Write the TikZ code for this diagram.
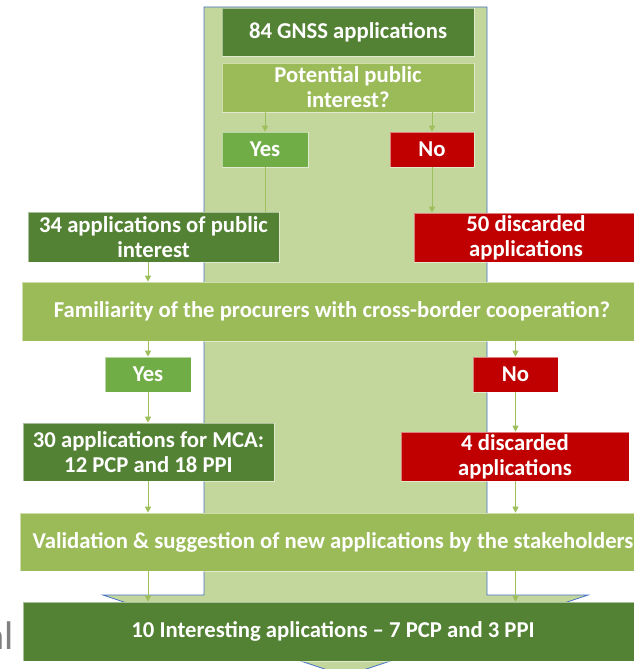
\documentclass[tikz,border=0pt]{standalone}
\usepackage{fontspec}
\setmainfont{Carlito}
\usetikzlibrary{arrows.meta}
\definecolor{dkgreen}{HTML}{548235}
\definecolor{olive}{HTML}{9BBB59}
\definecolor{yesgreen}{HTML}{70AD47}
\definecolor{nored}{HTML}{C00000}
\definecolor{arrowfill}{HTML}{C3D69B}
\definecolor{arrowline}{HTML}{4472C4}
\definecolor{conn}{HTML}{9DBF5C}
\begin{document}
\begin{tikzpicture}[x=1pt,y=-1pt,
  box/.style={rectangle, inner sep=0pt, draw=white, draw opacity=0.5, line width=0.6pt,
    text=white, align=center, font=\fontsize{22.7}{25}\selectfont\bfseries},
  darkbox/.style={box, fill=dkgreen},
  qbox/.style={box, fill=olive},
  yesbox/.style={box, fill=yesgreen},
  nobox/.style={box, fill=nored},
  link/.style={draw=conn, line width=0.9pt, -{Triangle[width=6pt,length=6pt]}},
  plainlink/.style={draw=conn, line width=0.9pt}]
\clip (0,0) rectangle (634,669);
% big background arrow
\draw[fill=arrowfill, draw=arrowline, line width=0.8pt]
  (204,7) -- (487,7) -- (487,595) -- (588,595) -- (345.5,676) -- (103,595) -- (204,595) -- cycle;
% partial text at the left edge
\node[anchor=base east, inner sep=0pt, text=black!50, font=\fontsize{40}{42}\selectfont] (lbl) at (14,649) {al};
% nodes
\node[darkbox, minimum width=252pt, minimum height=48pt] (gnss) at (348,32) {84 GNSS applications};
\node[qbox, minimum width=252pt, minimum height=49pt] (pot) at (348,87.5) {Potential public\\interest?};
\node[yesbox, minimum width=86pt, minimum height=35pt] (yes1) at (265,149.5) {Yes};
\node[nobox, minimum width=84pt, minimum height=35pt] (no1) at (432,149.5) {No};
\node[darkbox, minimum width=251pt, minimum height=50pt] (pub) at (153.5,237) {34 applications of public\\interest};
\node[nobox, minimum width=224pt, minimum height=49pt] (disc1) at (526,237.5) {50 discarded\\applications};
\node[qbox, minimum width=620pt, minimum height=59pt] (fam) at (332,311.5) {Familiarity of the procurers with cross-border cooperation?};
\node[yesbox, minimum width=86pt, minimum height=35pt] (yes2) at (148,374.5) {Yes};
\node[nobox, minimum width=85pt, minimum height=35pt] (no2) at (515.5,374.5) {No};
\node[darkbox, minimum width=251pt, minimum height=58pt] (mca) at (148.5,452) {30 applications for MCA:\\12 PCP and 18 PPI};
\node[nobox, minimum width=228pt, minimum height=49pt] (disc2) at (515,456.5) {4 discarded\\applications};
\node[qbox, minimum width=626pt, minimum height=58pt] (val) at (333,542) {Validation \& suggestion of new applications by the stakeholders};
\node[darkbox, minimum width=620pt, minimum height=59pt] (fin) at (333,631.5) {10 Interesting aplications -- 7 PCP and 3 PPI};
% connectors
\draw[link] (pot.south -| yes1.north) -- (yes1.north);
\draw[link] (pot.south -| no1.north) -- (no1.north);
\draw[plainlink] (yes1.south) -- (yes1.south |- pub.north);
\draw[link] (no1.south) -- (no1.south |- disc1.north);
\draw[link] (pub.south -| yes2.north) -- (yes2.north |- fam.north);
\draw[link] (fam.south -| yes2.north) -- (yes2.north);
\draw[link] (fam.south -| no2.north) -- (no2.north);
\draw[link] (yes2.south) -- (yes2.south |- mca.north);
\draw[link] (no2.south) -- (no2.south |- disc2.north);
\draw[link] (mca.south -| yes2.south) -- (yes2.south |- val.north);
\draw[link] (disc2.south -| no2.south) -- (no2.south |- val.north);
\draw[link] (val.south -| yes2.south) -- (yes2.south |- fin.north);
\draw[link] (val.south -| no2.south) -- (no2.south |- fin.north);
\end{tikzpicture}
\end{document}
